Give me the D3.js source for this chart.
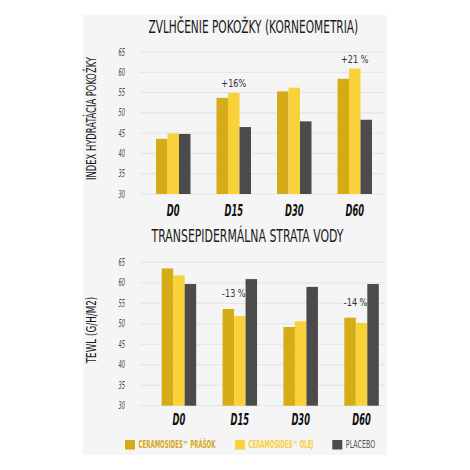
<!DOCTYPE html>
<html><head><meta charset="utf-8">
<script src="https://cdn.jsdelivr.net/npm/d3@7"></script>
<style>
html,body{margin:0;padding:0;background:#fff;}
svg{display:block;}
text{font-family:"DejaVu Sans Condensed","Liberation Sans Narrow","Roboto",sans-serif;}
</style></head>
<body>
<svg id="c" width="470" height="470"></svg>
<script>
// ---- data ----
const categories = ["D0", "D15", "D30", "D60"];
const seriesNames = ["CERAMOSIDES™ PRÁŠOK", "CERAMOSIDES™ OLEJ", "PLACEBO"];
const seriesColors = ["#d5ab18", "#f9d23a", "#4b4b4b"];
const legendTextColors = ["#d3a915", "#f6cf3c", "#555555"];
const yTicks = [30, 35, 40, 45, 50, 55, 60, 65];

const hydrationPowder = [43.6, 53.7, 55.3, 58.4];
const hydrationOil    = [44.9, 54.9, 56.2, 60.9];
const hydrationPlacebo= [44.8, 46.5, 47.9, 48.3];
const hydrationNotes  = [{cat: "D15", text: "+16%"}, {cat: "D60", text: "+21 %"}];

const tewlPowder  = [63.5, 53.6, 49.2, 51.5];
const tewlOil     = [61.8, 51.9, 50.6, 50.2];
const tewlPlacebo = [59.7, 60.9, 59.0, 59.7];
const tewlNotes   = [{cat: "D15", text: "-13 %"}, {cat: "D60", text: "-14 %"}];

const svg = d3.select("#c");
svg.append("rect").attr("x", 83).attr("y", 15).attr("width", 304).attr("height", 440).attr("fill", "#f5f5f5");

// place a text at (x,y) and squeeze it horizontally to a target width
function fit(t, x, y, w, rot) {
  const nat = t.node().getComputedTextLength();
  const sx = w / nat;
  t.attr("x", 0).attr("y", 0)
   .attr("transform", rot ? `translate(${x},${y}) rotate(-90) scale(${sx},1)` : `translate(${x},${y}) scale(${sx},1)`);
  return t;
}

function drawChart(cfg) {
  const g = svg.append("g");
  const y = d3.scaleLinear().domain([30, 65]).range([cfg.y0, cfg.y1]);
  const x = d3.scaleBand().domain(categories).range(cfg.xr).padding(0);
  const xs = d3.scaleBand().domain(seriesNames).range([-17.25, 17.25]);

  // grid
  g.selectAll("line.grid").data(yTicks).join("line")
    .attr("x1", 140).attr("x2", 385)
    .attr("y1", d => y(d)).attr("y2", d => y(d))
    .attr("stroke", "#e3e3e3").attr("stroke-width", 1);
  // y tick labels
  g.selectAll("text.yt").data(yTicks).join("text")
    .attr("text-anchor", "end").attr("font-size", 10).attr("font-style", "italic")
    .attr("fill", "#444")
    .text(d => d)
    .each(function(d) { fit(d3.select(this), 125, y(d) + 3.5, 6.5); });

  const series = [cfg.a, cfg.b, cfg.c];
  series.forEach((vals, si) => {
    g.selectAll(null).data(vals).join("rect")
      .attr("x", (d, i) => x(categories[i]) + x.bandwidth() / 2 + xs(seriesNames[si]))
      .attr("width", xs.bandwidth())
      .attr("y", d => y(d))
      .attr("height", d => y(30) - y(d))
      .attr("fill", seriesColors[si]);
  });

  // x labels
  g.selectAll("text.xl").data(categories).join("text")
    .attr("text-anchor", "middle").attr("font-size", 15).attr("font-style", "italic")
    .attr("font-weight", "bold").attr("fill", "#111")
    .text(d => d)
    .each(function(d) {
      const t = d3.select(this);
      const nat = this.getComputedTextLength();
      fit(t, x(d) + x.bandwidth() / 2, cfg.xLabelY, nat * 0.62);
    });

  // annotations
  g.selectAll("text.note").data(cfg.notes).join("text")
    .attr("text-anchor", "middle").attr("font-size", 11).attr("fill", "#333")
    .text(d => d.text)
    .each(function(d) {
      const i = categories.indexOf(d.cat);
      const nat = this.getComputedTextLength();
      fit(d3.select(this), x(d.cat) + x.bandwidth() / 2 + cfg.noteDx,
          y(Math.max(cfg.a[i], cfg.b[i])) - cfg.noteOffset, nat * 0.82);
    });

  // title
  fit(g.append("text").attr("text-anchor", "middle").attr("font-size", 18).attr("fill", "#1a1a1a")
    .text(cfg.title), cfg.titleX, cfg.titleY, cfg.titleW);

  // y axis title
  fit(g.append("text").attr("text-anchor", "middle").attr("font-size", 13.5).attr("fill", "#1a1a1a")
    .text(cfg.yTitle), 95.5, cfg.yTitleY, cfg.yTitleW, true);
}

drawChart({
  y0: 194, y1: 52, xr: [143, 385],
  a: hydrationPowder, b: hydrationOil, c: hydrationPlacebo,
  notes: hydrationNotes, noteDx: 0, noteOffset: 6,
  xLabelY: 215.5,
  title: "ZVLHČENIE POKOŽKY (KORNEOMETRIA)", titleX: 253.3, titleY: 33, titleW: 210,
  yTitle: "INDEX HYDRATÁCIA POKOŽKY", yTitleY: 118.5, yTitleW: 123
});

drawChart({
  y0: 405.7, y1: 262.3, xr: [148.5, 392],
  a: tewlPowder, b: tewlOil, c: tewlPlacebo,
  notes: tewlNotes, noteDx: -6, noteOffset: 12,
  xLabelY: 425,
  title: "TRANSEPIDERMÁLNA STRATA VODY", titleX: 247.5, titleY: 241.5, titleW: 192,
  yTitle: "TEWL (G/H/M2)", yTitleY: 330, yTitleW: 66.6
});

// legend
const legX = [125, 235, 332.3];
const legW = [77, 65, 29.5];
const leg = svg.append("g");
seriesNames.forEach((n, i) => {
  leg.append("rect").attr("x", legX[i]).attr("y", 440).attr("width", 10).attr("height", 9.5)
    .attr("fill", seriesColors[i]);
  fit(leg.append("text").attr("font-size", 10).attr("fill", legendTextColors[i])
    .attr("font-weight", i < 2 ? "bold" : "normal")
    .text(n), legX[i] + 13.5, 448, legW[i]);
});
</script>
</body></html>
